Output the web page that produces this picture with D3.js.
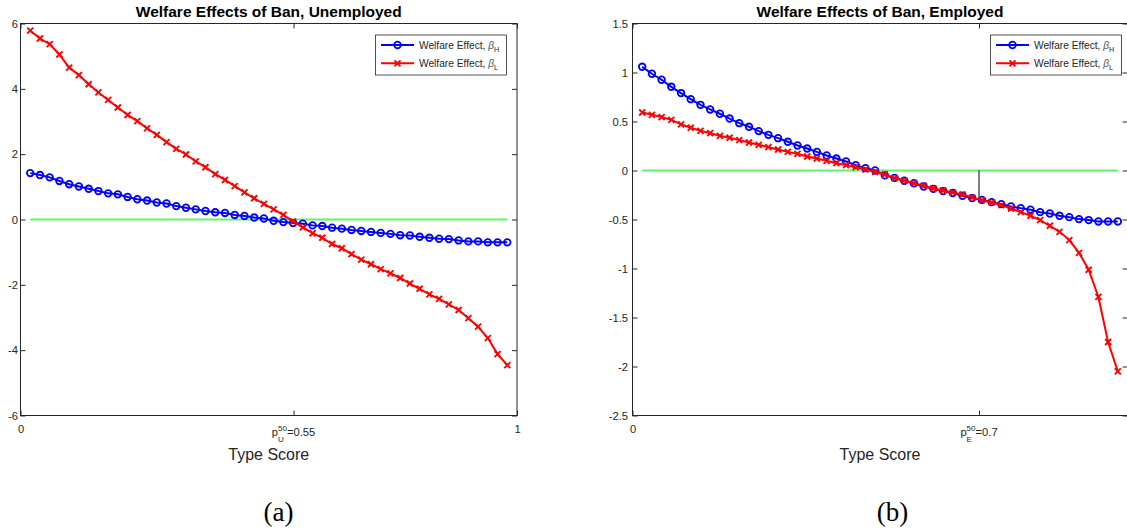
<!DOCTYPE html>
<html>
<head>
<meta charset="utf-8">
<script src="https://cdn.jsdelivr.net/npm/d3@7"></script>
<style>
  body { margin: 0; background: #fff; }
  svg { display: block; font-family: "Liberation Sans", Arial, sans-serif; }
</style>
</head>
<body>
<svg width="1127" height="529"></svg>
<script>
// Type score grid shared by both panels
const typeScore = [0.0196, 0.0392, 0.0588, 0.0784, 0.0980, 0.1176, 0.1373, 0.1569, 0.1765, 0.1961,
    0.2157, 0.2353, 0.2549, 0.2745, 0.2941, 0.3137, 0.3333, 0.3529, 0.3725, 0.3922,
    0.4118, 0.4314, 0.4510, 0.4706, 0.4902, 0.5098, 0.5294, 0.5490, 0.5686, 0.5882,
    0.6078, 0.6275, 0.6471, 0.6667, 0.6863, 0.7059, 0.7255, 0.7451, 0.7647, 0.7843,
    0.8039, 0.8235, 0.8431, 0.8627, 0.8824, 0.9020, 0.9216, 0.9412, 0.9608, 0.9804];

// Unemployed: welfare effect for beta_H and beta_L
const unemployedHigh = [1.42, 1.36, 1.29, 1.18, 1.08, 1.01, 0.94, 0.87, 0.80, 0.77,
    0.69, 0.62, 0.58, 0.52, 0.49, 0.41, 0.36, 0.31, 0.26, 0.22,
    0.20, 0.14, 0.11, 0.06, 0.03, -0.04, -0.08, -0.11, -0.13, -0.18,
    -0.20, -0.25, -0.28, -0.32, -0.35, -0.38, -0.41, -0.44, -0.48, -0.49,
    -0.53, -0.56, -0.59, -0.60, -0.64, -0.67, -0.67, -0.70, -0.70, -0.70];
const unemployedLow = [5.78, 5.54, 5.37, 5.05, 4.65, 4.42, 4.14, 3.89, 3.66, 3.43,
    3.20, 3.01, 2.79, 2.59, 2.37, 2.16, 1.99, 1.78, 1.60, 1.39,
    1.21, 1.02, 0.83, 0.65, 0.48, 0.31, 0.14, -0.06, -0.24, -0.42,
    -0.56, -0.75, -0.88, -1.06, -1.23, -1.37, -1.52, -1.65, -1.79, -1.96,
    -2.12, -2.29, -2.43, -2.60, -2.77, -3.02, -3.28, -3.63, -4.12, -4.46];

// Employed: welfare effect for beta_H and beta_L
const employedHigh = [1.058, 0.987, 0.926, 0.854, 0.790, 0.728, 0.670, 0.623, 0.579, 0.530,
    0.483, 0.446, 0.402, 0.364, 0.330, 0.293, 0.255, 0.224, 0.190, 0.153,
    0.122, 0.092, 0.055, 0.024, 0.000, -0.050, -0.075, -0.105, -0.130, -0.163,
    -0.187, -0.210, -0.230, -0.258, -0.282, -0.300, -0.323, -0.343, -0.367, -0.384,
    -0.400, -0.425, -0.439, -0.462, -0.476, -0.496, -0.506, -0.520, -0.520, -0.520];
const employedLow = [0.592, 0.568, 0.545, 0.517, 0.470, 0.436, 0.405, 0.381, 0.354, 0.334,
    0.310, 0.286, 0.262, 0.238, 0.214, 0.190, 0.170, 0.143, 0.122, 0.099,
    0.075, 0.055, 0.035, 0.010, -0.015, -0.040, -0.078, -0.105, -0.130, -0.156,
    -0.184, -0.204, -0.224, -0.245, -0.276, -0.302, -0.326, -0.353, -0.388, -0.425,
    -0.462, -0.506, -0.564, -0.626, -0.710, -0.840, -1.013, -1.290, -1.750, -2.050];

// Axis ticks and medians
const yTicksUnemployed = [-6, -4, -2, 0, 2, 4, 6];
const yTicksEmployed = [-2.5, -2, -1.5, -1, -0.5, 0, 0.5, 1, 1.5];
const xTicksUnemployed = [0, 0.55, 1];
const xTicksEmployed = [0, 0.7];
const medians = [0.55, 0.7];
const medianCurveValues = [-0.10, -0.29];
const legendSubs = ["H", "L"];

const svg = d3.select("svg");
const plotTop = 23.5, plotBottom = 415.5;
const axisColor = "#262626";
const blue = "#0000ff", red = "#ff0000", green = "#66f266";

const panels = [
    {title: "Welfare Effects of Ban, Unemployed", high: unemployedHigh, low: unemployedLow,
     yDomain: [-6, 6], yTicks: yTicksUnemployed, xTicks: xTicksUnemployed, median: medians[0],
     medianValue: medianCurveValues[0], sub: "U", caption: "(a)", captionX: 278.5,
     left: 20.5, right: 517, yPad: 2.5, legendX: 375.5},
    {title: "Welfare Effects of Ban, Employed", high: employedHigh, low: employedLow,
     yDomain: [-2.5, 1.5], yTicks: yTicksEmployed, xTicks: xTicksEmployed, median: medians[1],
     medianValue: medianCurveValues[1], sub: "E", caption: "(b)", captionX: 892.5,
     left: 632.5, right: 1127.5, yPad: 4.5, legendX: 990.5}
];

panels.forEach(drawPanel);

function drawPanel(p) {
    const x = d3.scaleLinear().domain([0, 1]).range([p.left, p.right]);
    const y = d3.scaleLinear().domain(p.yDomain).range([plotBottom, plotTop]);
    const g = svg.append("g");
    const cx = (p.left + p.right) / 2;

    // Axes box
    g.append("rect")
        .attr("x", p.left).attr("y", plotTop)
        .attr("width", p.right - p.left).attr("height", plotBottom - plotTop)
        .attr("fill", "#fff").attr("stroke", axisColor).attr("stroke-width", 1);

    // Ticks on all four sides, pointing inward
    const styleAxis = a => {
        a.select(".domain").remove();
        a.attr("font-family", "'Liberation Sans', Arial, sans-serif").attr("font-size", 11.2);
        a.selectAll(".tick line").attr("stroke", axisColor);
        a.selectAll(".tick text").attr("fill", axisColor);
    };
    g.append("g").attr("transform", `translate(${p.left},0)`)
        .call(d3.axisLeft(y).tickValues(p.yTicks).tickSizeInner(-5).tickSizeOuter(0)
            .tickPadding(p.yPad).tickFormat(d => String(d)))
        .call(styleAxis);
    g.append("g").attr("transform", `translate(${p.right},0)`)
        .call(d3.axisRight(y).tickValues(p.yTicks).tickSizeInner(-5).tickSizeOuter(0).tickFormat(""))
        .call(styleAxis);
    g.append("g").attr("transform", `translate(0,${plotBottom})`)
        .call(d3.axisBottom(x).tickValues(p.xTicks).tickSizeInner(-5).tickSizeOuter(0)
            .tickPadding(10).tickFormat(d => d === p.median ? "" : String(d)))
        .call(styleAxis);
    g.append("g").attr("transform", `translate(0,${plotTop})`)
        .call(d3.axisTop(x).tickValues(p.xTicks).tickSizeInner(-5).tickSizeOuter(0).tickFormat(""))
        .call(styleAxis);

    // Median tick label p^50_U = 0.55
    medianLabel(g, x(p.median), p.sub, p.median);

    // Zero reference line
    g.append("line")
        .attr("x1", x(typeScore[0])).attr("x2", x(typeScore[typeScore.length - 1]))
        .attr("y1", y(0)).attr("y2", y(0))
        .attr("stroke", green).attr("stroke-width", 2);

    // Vertical marker at the median
    g.append("line")
        .attr("x1", x(p.median)).attr("x2", x(p.median))
        .attr("y1", y(0)).attr("y2", y(p.medianValue))
        .attr("stroke", "#000").attr("stroke-width", 1);

    const line = d3.line()
        .x((d, i) => x(typeScore[i]))
        .y(d => y(d));

    // beta_H series with circles
    g.append("path").datum(p.high)
        .attr("d", line).attr("fill", "none")
        .attr("stroke", blue).attr("stroke-width", 2);
    g.selectAll(".circ").data(p.high).enter().append("circle")
        .attr("class", "circ")
        .attr("cx", (d, i) => x(typeScore[i]))
        .attr("cy", d => y(d))
        .attr("r", 3.3)
        .attr("fill", "none").attr("stroke", blue).attr("stroke-width", 1.8);

    // beta_L series with crosses
    g.append("path").datum(p.low)
        .attr("d", line).attr("fill", "none")
        .attr("stroke", red).attr("stroke-width", 2);
    g.selectAll(".cross").data(p.low).enter().append("path")
        .attr("class", "cross")
        .attr("transform", (d, i) => `translate(${x(typeScore[i])},${y(d)})`)
        .attr("d", "M-3,-3L3,3M-3,3L3,-3")
        .attr("stroke", red).attr("stroke-width", 1.9);

    // Legend
    drawLegend(g, p.legendX, 35);

    // Title, x label, caption
    g.append("text")
        .attr("x", cx).attr("y", 16.5)
        .attr("text-anchor", "middle")
        .attr("font-weight", "bold").attr("font-size", 15.5)
        .attr("fill", "#000")
        .text(p.title);
    g.append("text")
        .attr("x", cx).attr("y", 460)
        .attr("text-anchor", "middle")
        .attr("font-size", 16).attr("fill", axisColor)
        .text("Type Score");
    g.append("text")
        .attr("x", p.captionX).attr("y", 521)
        .attr("text-anchor", "middle")
        .attr("font-family", "'Liberation Serif', 'DejaVu Serif', serif")
        .attr("font-size", 27).attr("fill", "#000")
        .text(p.caption);
}

function medianLabel(g, tx, sub, value) {
    const lg = g.append("g").attr("fill", axisColor);
    const pText = lg.append("text").attr("y", 436).attr("font-size", 11.2).text("p");
    const pw = pText.node().getComputedTextLength();
    const sup = lg.append("text").attr("x", pw).attr("y", 430.5).attr("font-size", 8).text("50");
    const sb = lg.append("text").attr("x", pw).attr("y", 441.5).attr("font-size", 8).text(sub);
    const sw = Math.max(sup.node().getComputedTextLength(), sb.node().getComputedTextLength());
    const rest = lg.append("text").attr("x", pw + sw).attr("y", 436).attr("font-size", 11.2).text("=" + value);
    const total = pw + sw + rest.node().getComputedTextLength();
    lg.attr("transform", `translate(${tx - total / 2},0)`);
}

function drawLegend(g, lx, ly) {
    const lg = g.append("g");
    lg.append("rect")
        .attr("x", lx).attr("y", ly).attr("width", 131).attr("height", 40)
        .attr("fill", "#fff").attr("stroke", axisColor).attr("stroke-width", 0.8);
    legendSubs.forEach((s, k) => {
        const yy = ly + 10 + k * 18.3;
        const color = k === 0 ? blue : red;
        lg.append("line")
            .attr("x1", lx + 5.5).attr("x2", lx + 38.5)
            .attr("y1", yy).attr("y2", yy)
            .attr("stroke", color).attr("stroke-width", 2);
        if (k === 0) {
            lg.append("circle").attr("cx", lx + 22).attr("cy", yy).attr("r", 3.3)
                .attr("fill", "none").attr("stroke", color).attr("stroke-width", 1.8);
        } else {
            lg.append("path").attr("transform", `translate(${lx + 22},${yy})`)
                .attr("d", "M-3,-3L3,3M-3,3L3,-3")
                .attr("stroke", color).attr("stroke-width", 1.9);
        }
        const t = lg.append("text")
            .attr("x", lx + 43.5).attr("y", yy + 3.5)
            .attr("font-size", 10.2).attr("fill", axisColor);
        t.append("tspan").text("Welfare Effect, ");
        t.append("tspan").attr("font-style", "italic").attr("fill", "#555").text("\u03b2");
        t.append("tspan").attr("font-size", 7.2).attr("dy", 3.5).text(s);
    });
}
</script>
</body>
</html>
